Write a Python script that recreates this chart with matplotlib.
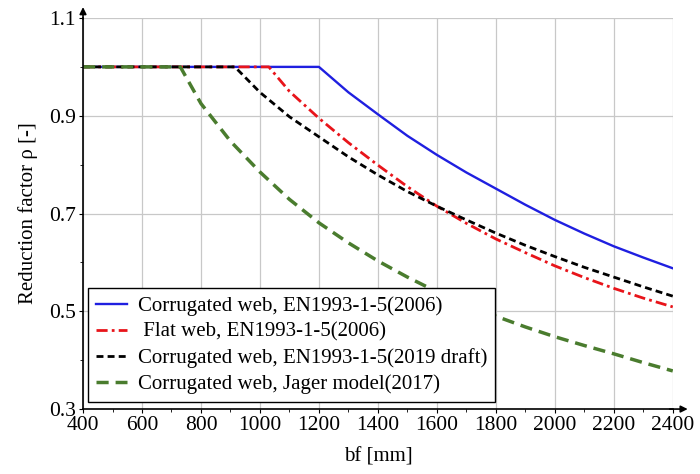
import numpy as np
import matplotlib
matplotlib.use('Agg')
import matplotlib.pyplot as plt
from matplotlib.ticker import MultipleLocator

plt.rcParams['font.family'] = ['Liberation Serif', 'DejaVu Serif']

# Values
bf_blue = [400, 1200, 1300, 1400, 1500, 1600, 1700, 1800, 1900, 2000, 2100, 2200, 2300, 2400]
rho_blue = [1.0, 1.0, 0.948, 0.903, 0.859, 0.820, 0.784, 0.751, 0.718, 0.687, 0.659, 0.633, 0.610, 0.588]

bf_red = [400, 1030, 1100, 1200, 1300, 1400, 1500, 1600, 1700, 1800, 1900, 2000, 2100, 2200, 2300, 2400]
rho_red = [1.0, 1.0, 0.950, 0.895, 0.845, 0.799, 0.755, 0.715, 0.680, 0.648, 0.620, 0.593, 0.569, 0.547, 0.527, 0.509]

bf_black = [400, 915, 1000, 1100, 1200, 1300, 1400, 1500, 1600, 1700, 1800, 1900, 2000, 2100, 2200, 2300, 2400]
rho_black = [1.0, 1.0, 0.948, 0.898, 0.857, 0.816, 0.779, 0.745, 0.715, 0.687, 0.660, 0.635, 0.612, 0.590, 0.570, 0.550, 0.531]

bf_green = [400, 730, 800, 900, 1000, 1100, 1200, 1300, 1400, 1500, 1600, 1700, 1800, 1900, 2000, 2100, 2200, 2300, 2400]
rho_green = [1.0, 1.0, 0.925, 0.848, 0.785, 0.729, 0.681, 0.640, 0.603, 0.570, 0.540, 0.515, 0.490, 0.468, 0.448, 0.430, 0.413, 0.395, 0.378]

labels = ['Corrugated web, EN1993-1-5(2006)',
          ' Flat web, EN1993-1-5(2006)',
          'Corrugated web, EN1993-1-5(2019 draft)',
          'Corrugated web, Jager model(2017)']

fig = plt.figure(figsize=(7, 4.74), dpi=100)
ax = fig.add_axes([0.1186, 0.137, 0.8425, 0.825])

ax.plot(bf_blue, rho_blue, '-', color='#1f1fe0', lw=1.7, label=labels[0])
ax.plot(bf_red, rho_red, '-.', color='#e8141a', lw=2.0, dashes=(4, 1.5, 1, 1.5), label=labels[1])
ax.plot(bf_black, rho_black, '--', color='black', lw=2.0, dashes=(2.5, 1.5), label=labels[2])
ax.plot(bf_green, rho_green, '--', color='#4a7c2e', lw=2.5, dashes=(3.5, 2), label=labels[3])

ax.set_xlim(400, 2400)
ax.set_ylim(0.3, 1.1)
ax.xaxis.set_major_locator(MultipleLocator(200))
ax.xaxis.set_minor_locator(MultipleLocator(100))
ax.yaxis.set_minor_locator(MultipleLocator(0.1))
ax.set_yticks([0.3, 0.5, 0.7, 0.9, 1.1])
ax.set_yticklabels(['0.3', '0.5', '0.7', '0.9', '1.1'])
ax.grid(True, which='major', color='#c8c8c8', lw=0.9)
ax.set_axisbelow(True)
ax.tick_params(which='both', labelsize=15.5, direction='out', length=3, pad=2)
ax.tick_params(which='minor', length=2)

for s in ['top', 'right']:
    ax.spines[s].set_visible(False)
ax.spines['left'].set_linewidth(1.2)
ax.spines['bottom'].set_linewidth(1.2)

# axis arrows
ax.annotate('', xy=(0, 1.035), xytext=(0, 0.99), xycoords='axes fraction',
            arrowprops=dict(arrowstyle='-|>', color='black', lw=1.2, mutation_scale=10))
ax.annotate('', xy=(1.03, 0), xytext=(0.99, 0), xycoords='axes fraction',
            arrowprops=dict(arrowstyle='-|>', color='black', lw=1.2, mutation_scale=10))

ax.set_xlabel('bf [mm]', fontsize=15, labelpad=9)
ax.set_ylabel('Reduction factor \u03c1 [-]', fontsize=15, labelpad=8)

leg = ax.legend(loc='lower left', bbox_to_anchor=(0.008, 0.017), fontsize=15,
                frameon=True, fancybox=False, edgecolor='black', framealpha=1,
                handlelength=1.5, handletextpad=0.5, borderpad=0.4, labelspacing=0.3,
                borderaxespad=0)
leg.get_frame().set_linewidth(1.0)

fig.savefig('out.png', dpi=100)
